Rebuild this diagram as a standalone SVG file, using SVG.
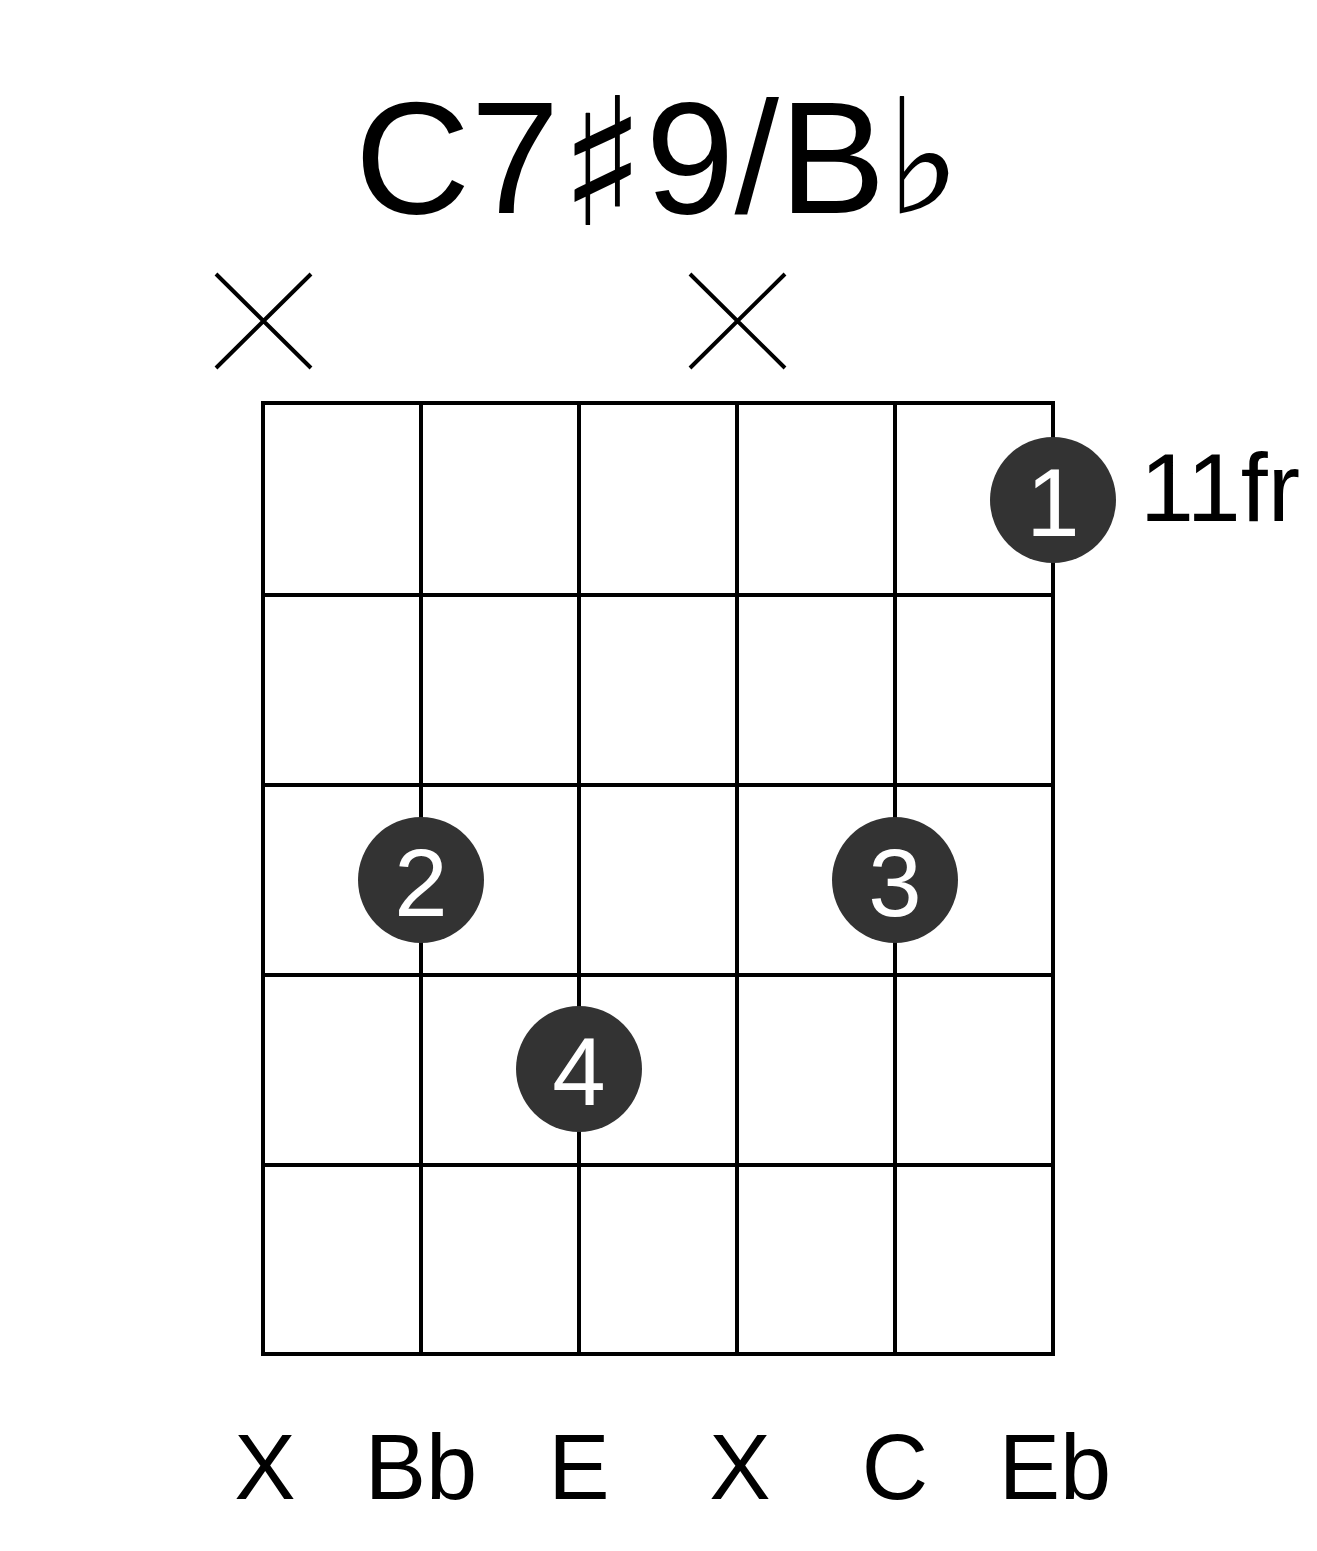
<svg xmlns="http://www.w3.org/2000/svg" width="1317" height="1551" viewBox="0 0 1317 1551">
<style>
.g{stroke:#000;stroke-width:4;fill:none}
.x{stroke:#000;stroke-width:4;fill:none}
.dot{fill:#333}
.fn{fill:#fff;font-family:"Liberation Sans",Arial,sans-serif;font-size:96px;text-anchor:middle}
.lb{fill:#000;font-family:"Liberation Sans",Arial,sans-serif;font-size:92px;text-anchor:middle}
</style>
<rect width="1317" height="1551" fill="#fff"/>
<text x="658" y="213" font-family="Liberation Sans,Arial,sans-serif" font-size="160" text-anchor="middle">C7<tspan font-family="DejaVu Sans,sans-serif" font-size="178" dy="12">♯</tspan><tspan dy="-12">9/B</tspan><tspan font-family="DejaVu Serif,serif">♭</tspan></text>
<g id="mutes">
<path class="x" d="M216 274L311 368M311 274L216 368"/>
<path class="x" d="M690 274L785 368M785 274L690 368"/>
</g>
<g id="grid">
<rect class="g" x="263" y="403" width="790" height="951"/>
<path class="g" d="M421 403V1354M579 403V1354M737 403V1354M895 403V1354M263 595H1053M263 785H1053M263 975H1053M263 1165H1053"/>
</g>
<g id="f1"><circle class="dot" cx="1053" cy="500" r="63"/><text class="fn" x="1053" y="536">1</text></g>
<g id="f2"><circle class="dot" cx="421" cy="880" r="63"/><text class="fn" x="421" y="916">2</text></g>
<g id="f3"><circle class="dot" cx="895" cy="880" r="63"/><text class="fn" x="895" y="916">3</text></g>
<g id="f4"><circle class="dot" cx="579" cy="1069" r="63"/><text class="fn" x="579" y="1105">4</text></g>
<text x="1140" y="521" font-family="Liberation Sans,Arial,sans-serif" font-size="97">11fr</text>
<g id="labels">
<text class="lb" x="265" y="1499">X</text>
<text class="lb" x="421" y="1499">Bb</text>
<text class="lb" x="579" y="1499">E</text>
<text class="lb" x="740" y="1499">X</text>
<text class="lb" x="895" y="1499">C</text>
<text class="lb" x="1055" y="1499">Eb</text>
</g>
</svg>
